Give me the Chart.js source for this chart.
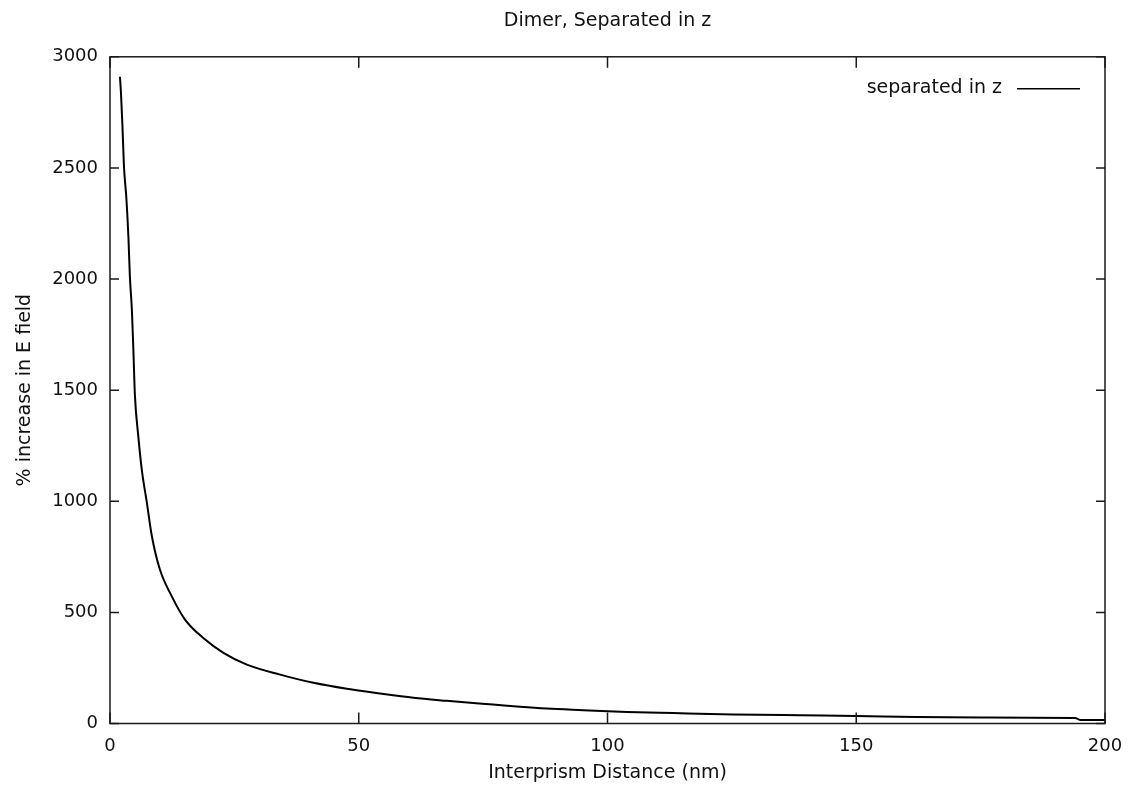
<!DOCTYPE html>
<html>
<head>
<meta charset="utf-8">
<script src="https://cdn.jsdelivr.net/npm/chart.js@4/dist/chart.umd.min.js"></script>
<style>
  html, body { margin: 0; padding: 0; background: #fff; }
  #wrap { width: 1129px; height: 796px; }
</style>
</head>
<body>
<div id="wrap"><canvas id="dimerChart"></canvas></div>
<script>
// values
const distances = [2.0, 2.2, 2.5, 2.8, 3.3, 3.7, 4.0, 4.4, 4.7, 5.0, 5.7, 6.4, 7.4, 8.4, 10.0,
    12.4, 15.0, 19.0, 22.8, 27.5, 34.2, 40.9, 47.6, 54.3, 61.0, 67.7, 72.4, 77.0, 82.4, 87.8,
    95.1, 103.9, 113.2, 125.3, 138.7, 150.0, 162.0, 175.0, 194.0, 195.0, 200.0];
const increase = [2910, 2840, 2690, 2510, 2360, 2190, 2010, 1860, 1680, 1480, 1290, 1140, 995, 845, 695,
    573, 470, 380, 318, 265, 220, 183, 156, 135, 116, 102, 93, 85, 75, 67,
    60, 52, 47, 41, 37, 34, 29, 27, 25, 16, 16];
const xTicks = [0, 50, 100, 150, 200];
const yTicks = [0, 500, 1000, 1500, 2000, 2500, 3000];
const seriesName = 'separated in z';

const points = distances.map((d, i) => ({x: d, y: increase[i]}));
const FONT = "'DejaVu Sans', sans-serif";

// gnuplot style border, inward mirrored ticks and key
const framePlugin = {
    id: 'frame',
    afterDatasetsDraw(chart) {
        const {ctx, chartArea: a, scales: {x, y}} = chart;
        ctx.save();
        ctx.strokeStyle = '#1a1a1a';
        ctx.lineWidth = 1.5;
        ctx.strokeRect(a.left, a.top, a.right - a.left, a.bottom - a.top);
        ctx.beginPath();
        xTicks.forEach(v => {
            const px = x.getPixelForValue(v);
            ctx.moveTo(px, a.bottom); ctx.lineTo(px, a.bottom - 11);
            ctx.moveTo(px, a.top); ctx.lineTo(px, a.top + 11);
        });
        yTicks.forEach(v => {
            const py = y.getPixelForValue(v);
            ctx.moveTo(a.left, py); ctx.lineTo(a.left + 9, py);
            ctx.moveTo(a.right, py); ctx.lineTo(a.right - 9, py);
        });
        ctx.stroke();

        // key in the top right corner
        const keyY = a.top + 31;
        ctx.font = '19px ' + FONT;
        ctx.fillStyle = '#111';
        ctx.textAlign = 'right';
        ctx.textBaseline = 'middle';
        ctx.fillText(seriesName, a.right - 103, keyY);
        ctx.beginPath();
        ctx.lineWidth = 1.5;
        ctx.strokeStyle = '#000';
        ctx.moveTo(a.right - 88, keyY + 1);
        ctx.lineTo(a.right - 25, keyY + 1);
        ctx.stroke();
        ctx.restore();
    }
};

new Chart(document.getElementById('dimerChart'), {
    type: 'line',
    data: {
        datasets: [{
            label: seriesName,
            data: points,
            borderColor: '#000',
            borderWidth: 2,
            pointRadius: 0,
            fill: false,
            cubicInterpolationMode: 'monotone'
        }]
    },
    options: {
        responsive: true,
        maintainAspectRatio: false,
        animation: false,
        layout: { padding: { right: 24 } },
        plugins: {
            legend: { display: false },
            tooltip: { enabled: false },
            title: {
                display: true,
                text: 'Dimer, Separated in z',
                fullSize: false,
                color: '#111',
                font: { family: FONT, size: 19, weight: 'normal' },
                padding: { top: 10, bottom: 24 }
            }
        },
        scales: {
            x: {
                type: 'linear',
                min: 0,
                max: 200,
                afterBuildTicks: s => { s.ticks = xTicks.map(v => ({value: v})); },
                afterFit: s => { s.height = 72.5; s.paddingLeft = 0; s.paddingRight = 0; },
                grid: { display: false, drawTicks: false },
                border: { display: false },
                ticks: {
                    color: '#111', padding: 12, maxRotation: 0,
                    font: { family: FONT, size: 18 },
                    callback: v => String(v)
                },
                title: {
                    display: true,
                    text: 'Interprism Distance (nm)',
                    color: '#111',
                    font: { family: FONT, size: 19 },
                    padding: 12
                }
            },
            y: {
                type: 'linear',
                min: 0,
                max: 3000,
                afterBuildTicks: s => { s.ticks = yTicks.map(v => ({value: v})); },
                afterFit: s => { s.width = 110; },
                grid: { display: false, drawTicks: false },
                border: { display: false },
                ticks: {
                    color: '#111', padding: 12,
                    font: { family: FONT, size: 18 },
                    callback: v => String(v)
                },
                title: {
                    display: true,
                    text: '% increase in E field',
                    color: '#111',
                    font: { family: FONT, size: 19 },
                    padding: 14
                }
            }
        }
    },
    plugins: [framePlugin]
});
</script>
</body>
</html>
